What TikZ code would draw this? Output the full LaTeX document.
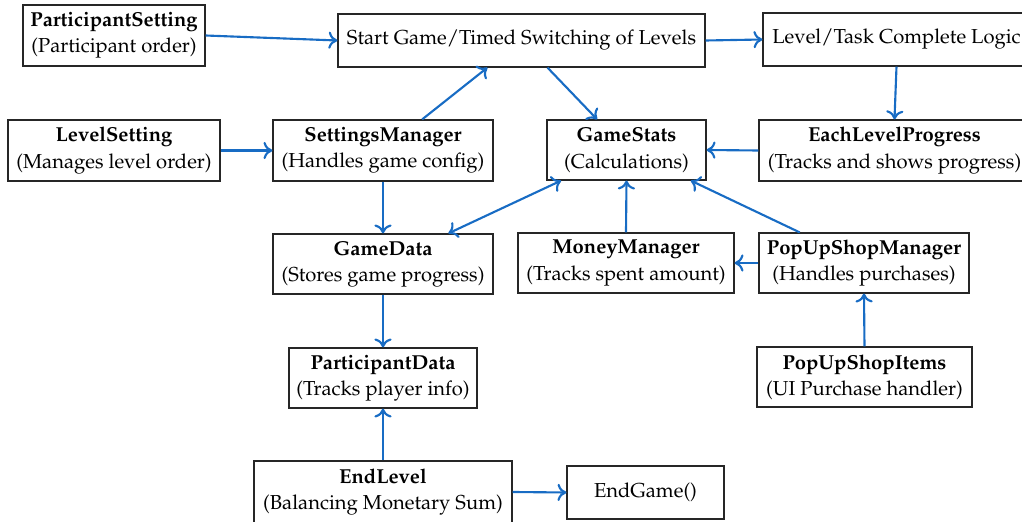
\documentclass[tikz,border=0pt]{standalone}
\usepackage[T1]{fontenc}
\usepackage{mathpazo}
\usetikzlibrary{arrows.meta}
\definecolor{linkblue}{RGB}{24,108,196}
\newcommand{\pxu}{0.495pt}
\tikzset{
  box/.style={draw=black!85, line width=0.6pt, align=center, inner sep=0pt,
    font=\fontsize{10}{13}\selectfont},
  link/.style={draw=linkblue, line width=1.05pt, -{To[length=4.4pt,width=8.5pt]}},
  both/.style={draw=linkblue, line width=1.05pt, {To[length=4.4pt,width=8.5pt]}-{To[length=4.4pt,width=8.5pt]}},
}
\begin{document}
\begin{tikzpicture}[x=\pxu, y=-\pxu]
\clip (0,0) rectangle (1022,522);

% top row
\node[box, minimum width={182*\pxu}, minimum height={61*\pxu}] (ps) at (114,35.5)
  {\textbf{ParticipantSetting}\\(Participant order)};
\node[box, minimum width={367*\pxu}, minimum height={53*\pxu}] (sg) at (521.5,40.5)
  {Start Game/Timed Switching of Levels};
\node[box, minimum width={267*\pxu}, minimum height={53*\pxu}] (lt) at (896.5,39.5)
  {Level/Task Complete Logic};

% second row
\node[box, minimum width={212*\pxu}, minimum height={61*\pxu}] (ls) at (114,150.5)
  {\textbf{LevelSetting}\\(Manages level order)};
\node[box, minimum width={220*\pxu}, minimum height={61*\pxu}] (sm) at (383,150.5)
  {\textbf{SettingsManager}\\(Handles game config)};
\node[box, minimum width={159*\pxu}, minimum height={60*\pxu}] (gs) at (626.5,150)
  {\textbf{GameStats}\\(Calculations)};
\node[box, minimum width={271*\pxu}, minimum height={61*\pxu}] (elp) at (894.5,150.5)
  {\textbf{EachLevelProgress}\\(Tracks and shows progress)};

% third row
\node[box, minimum width={220*\pxu}, minimum height={60*\pxu}] (gd) at (383,264)
  {\textbf{GameData}\\(Stores game progress)};
\node[box, minimum width={216*\pxu}, minimum height={60*\pxu}] (mm) at (626,263)
  {\textbf{MoneyManager}\\(Tracks spent amount)};
\node[box, minimum width={210*\pxu}, minimum height={60*\pxu}] (psm) at (864,263)
  {\textbf{PopUpShopManager}\\(Handles purchases)};

% fourth row
\node[box, minimum width={188*\pxu}, minimum height={60*\pxu}] (pd) at (383,378)
  {\textbf{ParticipantData}\\(Tracks player info)};
\node[box, minimum width={215*\pxu}, minimum height={60*\pxu}] (psi) at (864.5,377)
  {\textbf{PopUpShopItems}\\(UI Purchase handler)};

% bottom row
\node[box, minimum width={258*\pxu}, minimum height={62*\pxu}] (el) at (383,492)
  {\textbf{EndLevel}\\(Balancing Monetary Sum)};
\node[box, minimum width={157*\pxu}, minimum height={53*\pxu}] (eg) at (645.5,492.5)
  {EndGame()};

% connectors
\draw[link] (ps.east) -- (sg.west);
\draw[link] (sg.east) -- (lt.west);
\draw[link] (lt.south) -- (elp.north);
\draw[link] (elp.west) -- (gs.east);
\draw[link] (sg) -- (gs);
\draw[link] (sm) -- (sg);
\draw[link] (ls.east) -- (sm.west);
\draw[link] (sm.south) -- (gd.north);
\draw[both] (gd) -- (gs);
\draw[link] (mm.north) -- (gs.south);
\draw[link] (psm) -- (gs);
\draw[link] (psm.west) -- (mm.east);
\draw[link] (psi.north) -- (psm.south);
\draw[link] (gd.south) -- (pd.north);
\draw[link] (el.north) -- (pd.south);
\draw[link] (el.east) -- (eg.west);
\end{tikzpicture}
\end{document}
